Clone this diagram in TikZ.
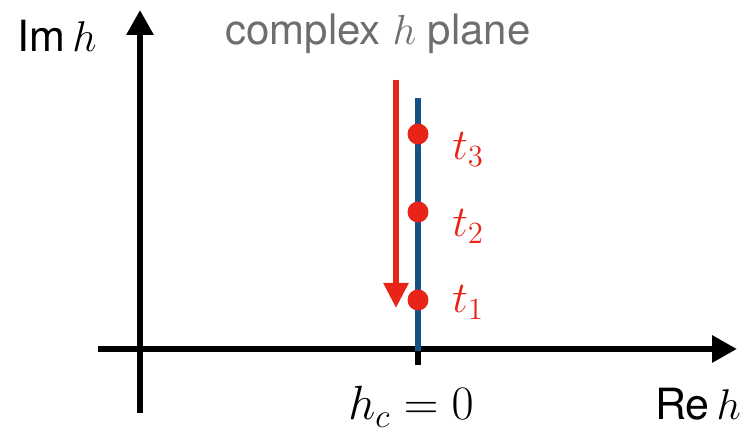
\RequirePackage{fix-cm}
\documentclass[tikz,border=0pt]{standalone}
\usepackage[no-math]{fontspec}
\setmainfont{TeX Gyre Heros}
\usepackage{xcolor}
\usetikzlibrary{arrows.meta}

\definecolor{flowred}{RGB}{232,36,24}
\definecolor{cutblue}{RGB}{18,82,135}
\definecolor{titlegray}{RGB}{110,110,110}

\begin{document}
\begin{tikzpicture}[x=0.5pt, y=-0.5pt,
    axis/.style={line width=3pt, -{Triangle[length=12.5pt,width=13pt]}},
    zero/.style={circle, fill=flowred, inner sep=0pt, minimum size=10.5pt}]
  \useasboundingbox (0,0) rectangle (746,431);

  % Axes
  \coordinate (xstart) at (98,349);
  \coordinate (xend) at (737,349);
  \coordinate (ystart) at (140,413);
  \coordinate (yend) at (140,10);
  \draw[axis] (xstart) -- (xend);
  \draw[axis] (ystart) -- (yend);
  \node[anchor=base, inner sep=0pt, font=\fontsize{21.5}{24}\selectfont] (imlabel) at (57,52) {Im\,$h$};
  \node[anchor=base, inner sep=0pt, font=\fontsize{21.5}{24}\selectfont] (relabel) at (698,420) {Re\,$h$};
  \node[anchor=base, inner sep=0pt, font=\fontsize{21}{24}\selectfont, text=titlegray] (title) at (378,45) {complex $h$ plane};

  % Critical point and Lee-Yang line
  \coordinate (ticktop) at (418,338);
  \coordinate (tickbot) at (418,365);
  \draw[line width=3pt] (ticktop) -- (tickbot);
  \coordinate (linetop) at (418,98);
  \coordinate (linebot) at (418,351);
  \draw[cutblue, line width=3pt] (linetop) -- (linebot);
  \node[anchor=base, inner sep=0pt, font=\fontsize{24}{28}\selectfont] (hc) at (411,420) {$h_c=0$};

  % Flow arrow
  \coordinate (flowtop) at (396,80);
  \coordinate (flowend) at (396,308);
  \draw[flowred, line width=2.8pt, -{Triangle[length=12.5pt,width=12pt]}] (flowtop) -- (flowend);

  % Zeros
  \node[zero] (z3) at (418,134) {};
  \node[zero] (z2) at (418,212) {};
  \node[zero] (z1) at (418,300) {};
  \node[anchor=base west, inner sep=0pt, text=flowred, font=\fontsize{22}{26}\selectfont] (t3) at (452,160) {$t_3$};
  \node[anchor=base west, inner sep=0pt, text=flowred, font=\fontsize{22}{26}\selectfont] (t2) at (452,237) {$t_2$};
  \node[anchor=base west, inner sep=0pt, text=flowred, font=\fontsize{22}{26}\selectfont] (t1) at (452,313) {$t_1$};
\end{tikzpicture}
\end{document}
